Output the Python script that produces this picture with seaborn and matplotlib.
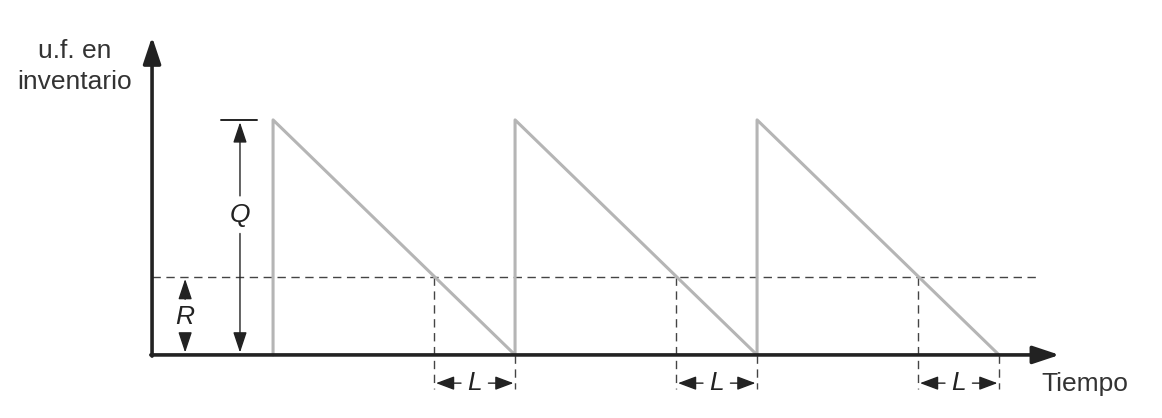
import matplotlib
matplotlib.use('Agg')
import matplotlib.pyplot as plt
import seaborn as sns
import pandas as pd

# modelo de inventario (Q, R)
tiempo = [15, 15, 45, 45, 75, 75, 105]
inventario = [0, 30, 0, 30, 0, 30, 0]
Q = 30
R = 10
t_pedido = [35, 65, 95]      # momento en que se alcanza R
t_llegada = [45, 75, 105]    # llegada del pedido (L despues)

sns.set_theme(style='white')
plt.rcParams['font.family'] = ['Liberation Sans', 'DejaVu Sans']

fig = plt.figure(figsize=(11.62, 4.18), dpi=100)
ax = fig.add_axes([0, 0, 1, 1])
ax.set_xlim(-18.85, 125.2)
ax.set_ylim(-8.05, 45.3)
ax.axis('off')

df = pd.DataFrame({'Tiempo': tiempo, 'Inventario': inventario})
sns.lineplot(data=df, x='Tiempo', y='Inventario', sort=False, estimator=None,
             color='#b5b5b5', linewidth=2.2, ax=ax, zorder=3)

# ejes con flecha
axis_kw = dict(arrowstyle='-|>,head_length=0.9,head_width=0.3', color='#222222',
               lw=2.6, mutation_scale=18, shrinkA=0, shrinkB=0)
ax.annotate('', xy=(0, 40.6), xytext=(0, -0.15), arrowprops=axis_kw, zorder=4)
ax.annotate('', xy=(112.5, 0), xytext=(-0.15, 0), arrowprops=axis_kw, zorder=4)

# nivel de reorden
dash = dict(color='#444444', lw=1.0, linestyle=(0, (6, 4)))
ax.plot([0, 110], [R, R], **dash, zorder=2)
small_l = dict(arrowstyle='-|>,head_length=0.8,head_width=0.3', color='#222222',
               lw=1.0, mutation_scale=14, shrinkA=0, shrinkB=0)
for tp, tl in zip(t_pedido, t_llegada):
    ax.plot([tp, tp], [R, -4.3], **dash, zorder=2)
    ax.plot([tl, tl], [0, -4.3], **dash, zorder=2)
    mid = (tp + tl) / 2
    ax.annotate('', xy=(tp + 0.2, -3.6), xytext=(mid - 1.7, -3.6), arrowprops=small_l)
    ax.annotate('', xy=(tl - 0.2, -3.6), xytext=(mid + 1.7, -3.6), arrowprops=small_l)
    ax.text(mid, -3.6, 'L', style='italic', fontsize=19, ha='center', va='center',
            color='#222222')

# cota Q
small = dict(arrowstyle='-|>,head_length=0.9,head_width=0.3', color='#222222',
             lw=1.0, mutation_scale=14, shrinkA=0, shrinkB=0)
qx = 10.9
ax.plot([8.5, 13.0], [Q, Q], color='#222222', lw=1.4)
ax.annotate('', xy=(qx, Q - 0.3), xytext=(qx, 20.3), arrowprops=small)
ax.annotate('', xy=(qx, 0.3), xytext=(qx, 15.5), arrowprops=small)
ax.text(qx, 17.9, 'Q', style='italic', fontsize=19, ha='center', va='center',
        color='#222222')

# cota R
rx = 4.1
ax.annotate('', xy=(rx, R - 0.3), xytext=(rx, 7.1), arrowprops=small)
ax.annotate('', xy=(rx, 0.3), xytext=(rx, 2.5), arrowprops=small)
ax.text(rx, 4.8, 'R', style='italic', fontsize=19, ha='center', va='center',
        color='#222222')

ax.text(-9.6, 36.8, 'u.f. en\ninventario', fontsize=19, ha='center', va='center',
        color='#333333', linespacing=1.35)
ax.text(115.6, -3.7, 'Tiempo', fontsize=19, ha='center', va='center', color='#333333')

fig.savefig('out.png', dpi=100)
